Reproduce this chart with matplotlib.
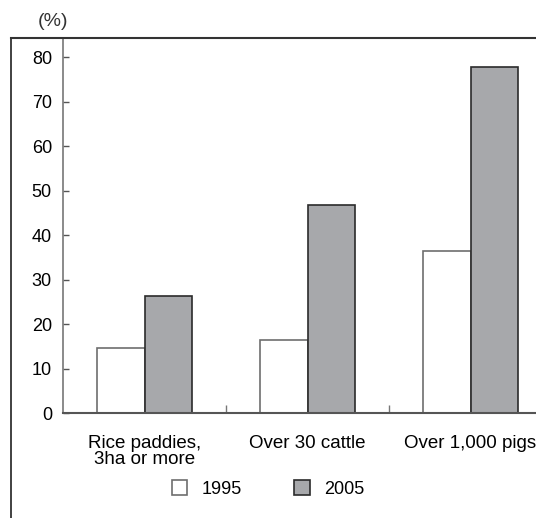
import matplotlib.pyplot as plt
from matplotlib.lines import Line2D
import numpy as np

plt.rcParams['font.family'] = ['Liberation Sans', 'DejaVu Sans']

# data
categories = ["Rice paddies,\n3ha or more", "Over 30 cattle", "Over 1,000 pigs"]
years = ["1995", "2005"]
values_1995 = [14.7, 16.4, 36.4]
values_2005 = [26.3, 46.8, 77.8]
y_ticks = [0, 10, 20, 30, 40, 50, 60, 70, 80]

fig = plt.figure(figsize=(5.36, 5.18), dpi=100)
W, H = 536, 518

# axes spans past the right edge like the original scan
x0, x1 = 63, 552
yb, yt = 413, 38
ax = fig.add_axes([x0 / W, (H - yb) / H, (x1 - x0) / W, (yb - yt) / H])

x = np.arange(len(categories))
bw = 0.29
ax.bar(x - bw / 2, values_1995, bw, color="white", edgecolor="#6e6e6e", linewidth=1.2, label=years[0])
ax.bar(x + bw / 2, values_2005, bw, color="#a7a8ab", edgecolor="#2b2b2b", linewidth=1.2, label=years[1])

ax.set_xlim(-0.5, 2.5)
ax.set_ylim(0, 84.3)
ax.set_yticks(y_ticks)
ax.set_yticklabels([str(t) for t in y_ticks], fontsize=13)
ax.tick_params(axis="y", direction="in", length=4, width=1, color="#555555", pad=8)

ax.set_xticks(x)
ax.set_xticklabels(categories, fontsize=13.5, linespacing=0.9)
ax.tick_params(axis="x", length=0, pad=16)
ax.set_xticks([0.5, 1.5], minor=True)
ax.tick_params(axis="x", which="minor", direction="in", length=6, width=1, color="#777777")

for s in ["top", "right"]:
    ax.spines[s].set_visible(False)
ax.spines["left"].set_color("#777777")
ax.spines["left"].set_linewidth(1.2)
ax.spines["bottom"].set_color("#555555")
ax.spines["bottom"].set_linewidth(1.5)

# outer frame (left and top only visible)
fig.add_artist(Line2D([11 / W, 11 / W], [0, (H - 38) / H], color="#333333", linewidth=1.3))
fig.add_artist(Line2D([11 / W, 1], [(H - 38) / H, (H - 38) / H], color="#333333", linewidth=1.5))

fig.text(53 / W, (H - 21) / H, "(%)", fontsize=14, ha="center", va="center", color="#333333")

leg = fig.legend(loc="center", bbox_to_anchor=(268 / W, (H - 489) / H), ncol=2, frameon=False,
                 fontsize=13, handlelength=0.85, handleheight=0.85, columnspacing=2.9, handletextpad=0.8)

plt.savefig("out.png", dpi=100)
